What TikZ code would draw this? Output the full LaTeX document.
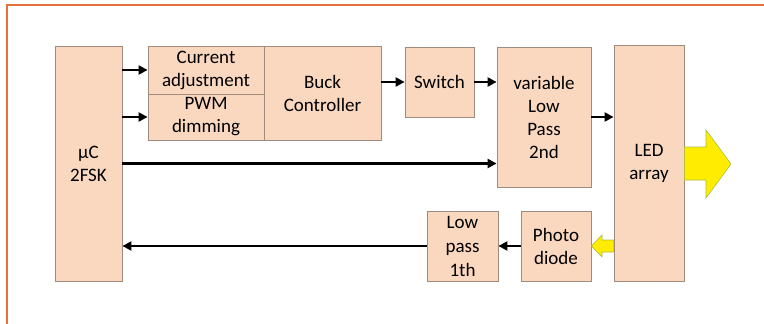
\documentclass[tikz,border=0pt]{standalone}
\usepackage{fontspec}
\setmainfont{Carlito}
\usetikzlibrary{arrows.meta}
\definecolor{boxfill}{RGB}{250,216,192}
\definecolor{boxline}{RGB}{160,140,125}
\definecolor{frameor}{RGB}{232,112,58}
\definecolor{arrowyel}{RGB}{255,236,0}
\definecolor{arrowedge}{RGB}{170,190,60}
\tikzset{
  blk/.style={draw=boxline, fill=boxfill, line width=0.8pt, inner sep=0pt, align=center,
    font=\fontsize{19}{23}\selectfont},
  arr/.style={line width=2.2pt, -{Triangle[length=9pt,width=9pt]}},
  yarrow/.style={fill=arrowyel, draw=arrowedge, line width=0.6pt},
}
\begin{document}
\begin{tikzpicture}[x=1pt,y=-1pt]
\useasboundingbox (0,0) rectangle (764,324);
\fill[white] (0,0) rectangle (764,324);
\draw[frameor, line width=1.2pt] (7,324) -- (7,5) -- (764,5);
% blocks
\node[blk, minimum width=67pt, minimum height=235pt] (uc) at (88.5,163.5) {μC\\2FSK};
\node[blk, minimum width=116pt, minimum height=48pt] (ca) at (206,70) {Current\\adjustment};
\node[blk, minimum width=116pt, minimum height=46pt] (pwm) at (206,117) {PWM\\dimming};
\node[blk, minimum width=117pt, minimum height=94pt] (buck) at (322.5,93) {Buck\\Controller};
\node[blk, minimum width=69pt, minimum height=70pt] (sw) at (439.5,82) {Switch};
\node[blk, minimum width=94pt, minimum height=140pt] (vlp) at (544,117) {variable\\Low\\Pass\\2nd};
\node[blk, minimum width=70pt, minimum height=236pt] (led) at (649,163) {LED\\array};
\node[blk, minimum width=70pt, minimum height=70pt] (pd) at (556,246) {Photo\\diode};
\node[blk, minimum width=71pt, minimum height=70pt, font=\fontsize{19}{24}\selectfont] (lp) at (462.5,246) {Low\\pass\\1th};
% connectors
\draw[arr] (uc.east |- ca) -- (ca.west);
\draw[arr] (uc.east |- pwm) -- (pwm.west);
\draw[arr] (uc.east) -- (uc.east -| vlp.west);
\draw[arr] (buck.east |- sw) -- (sw.west);
\draw[arr] (sw.east) -- (sw.east -| vlp.west);
\draw[arr] (vlp.east) -- (vlp.east -| led.west);
\draw[arr] (pd.west) -- (lp.east);
\draw[arr] (lp.west) -- (lp.west -| uc.east);
% yellow arrows
\draw[yarrow] (led.east |- 0,147) -- (706,147) -- (706,130) -- (731,164) -- (706,198) -- (706,180) -- (led.east |- 0,180) -- cycle;
\draw[yarrow] (led.west |- 0,240) -- (602,240) -- (602,235) -- (pd.east |- 0,246) -- (602,257) -- (602,252) -- (led.west |- 0,252) -- cycle;
\end{tikzpicture}
\end{document}
